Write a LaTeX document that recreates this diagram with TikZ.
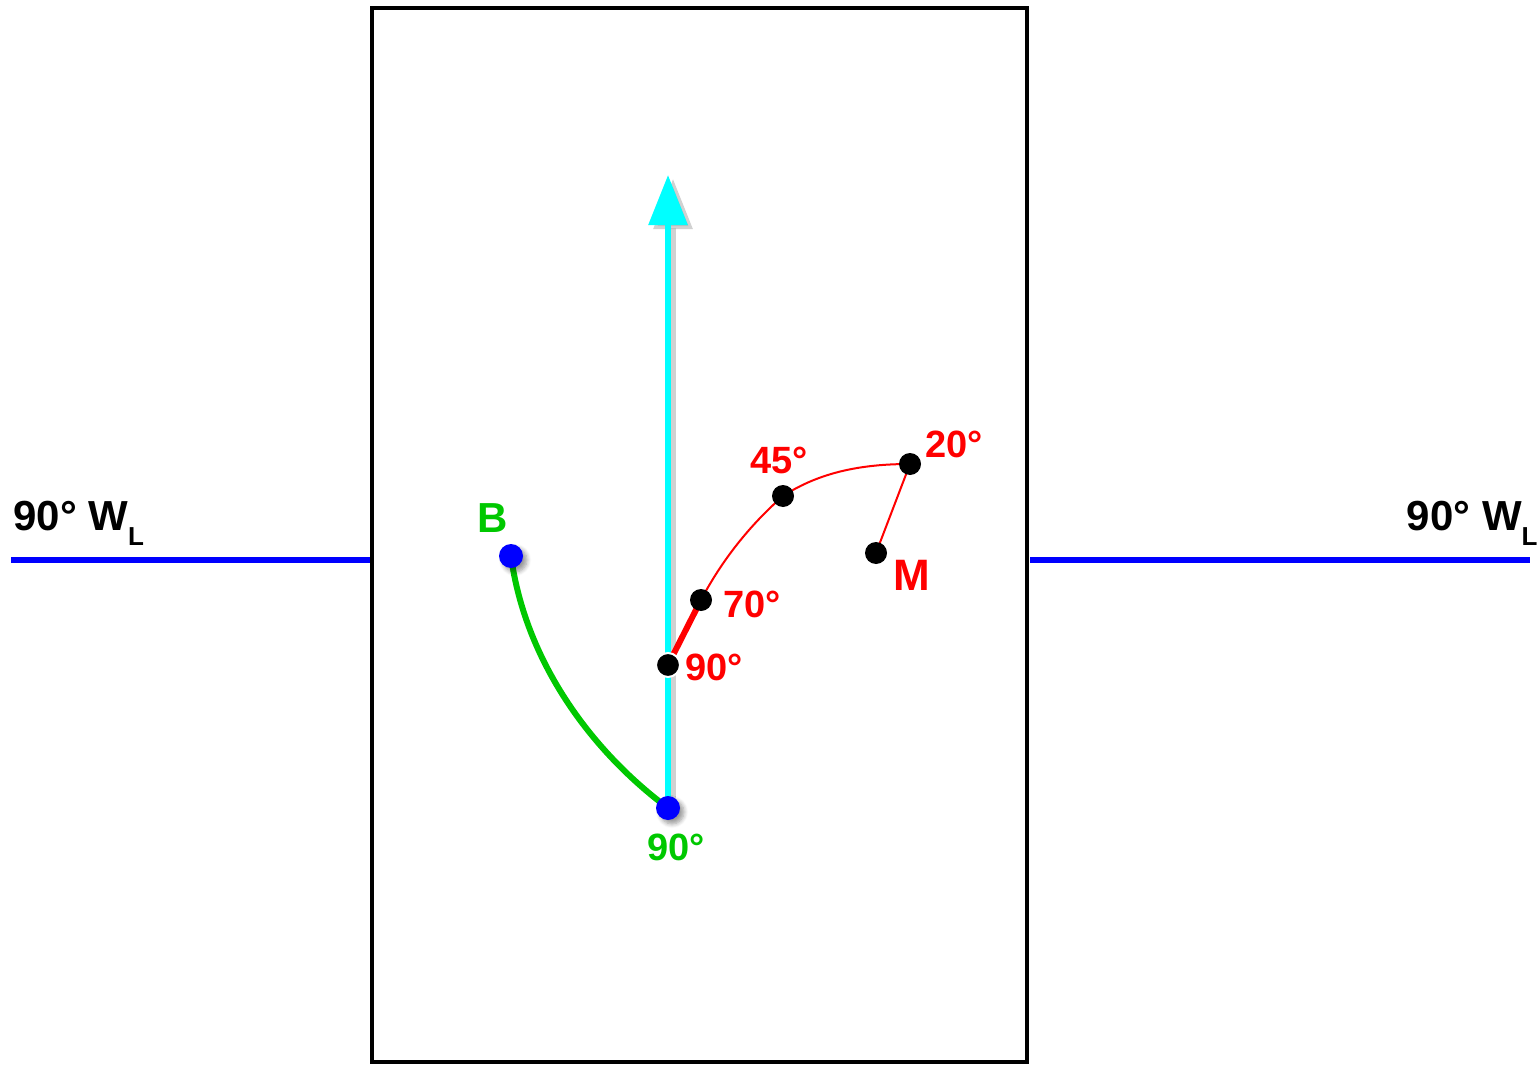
\documentclass[tikz,border=0pt]{standalone}
\usepackage{fontspec}
\setmainfont{Liberation Sans}
\usetikzlibrary{arrows.meta,shadows.blur}

\definecolor{aqua}{RGB}{0,255,255}
\definecolor{grassgreen}{RGB}{0,200,0}
\definecolor{purered}{RGB}{255,0,0}
\definecolor{pureblue}{RGB}{0,0,255}

\tikzset{
  bluedot/.style={circle, fill=pureblue, inner sep=0pt, minimum size=12pt,
    blur shadow={shadow xshift=2pt, shadow yshift=-2pt, shadow blur steps=6}},
  blackdot/.style={circle, fill=black, inner sep=0pt, minimum size=11pt},
  redlbl/.style={anchor=base west, inner sep=0pt, text=purered,
    font=\fontsize{19}{19}\selectfont\bfseries},
  greenlbl/.style={anchor=base west, inner sep=0pt, text=grassgreen,
    font=\fontsize{20}{20}\selectfont\bfseries},
  wlbl/.style={inner sep=0pt, font=\fontsize{21}{21}\selectfont\bfseries},
  horizon/.style={pureblue, line width=3pt}
}
\newcommand{\wsub}{{\fontsize{13}{13}\selectfont\raisebox{-7.5pt}{L}}}

\begin{document}
\begin{tikzpicture}[x=0.5pt, y=-0.5pt]
    \useasboundingbox (0,0) rectangle (1538,1065);

    % frame
    \draw[line width=2pt] (372,8) rectangle (1027,1062);

    % horizon lines
    \coordinate (hl1) at (11,560);
    \coordinate (hl2) at (370,560);
    \coordinate (hr1) at (1030,560);
    \coordinate (hr2) at (1530,560);
    \draw[horizon] (hl1) -- (hl2);
    \draw[horizon] (hr1) -- (hr2);
    \node[wlbl, anchor=base west] (wleft) at (13,530) {90° W\wsub};
    \node[wlbl, anchor=base east] (wright) at (1538,530) {90° W\wsub};

    % vertical arrow
    \coordinate (bot) at (668,808);
    \coordinate (tip) at (668,175);
    \draw[line width=3pt, black!30, opacity=0.6, -{Triangle[width=19pt,length=25pt]}]
        ([xshift=2.5pt,yshift=-2pt]bot) -- ([xshift=2.5pt,yshift=-2pt]tip);
    \draw[line width=3pt, aqua, -{Triangle[width=19pt,length=25pt]}] (bot) -- (tip);

    % green arc
    \coordinate (b) at (511,556);
    \draw[grassgreen, line width=3pt] (b) .. controls (525,660) and (590,750) .. (bot);

    % red track
    \coordinate (p90) at (668,665);
    \coordinate (p70) at (701,600);
    \coordinate (p45) at (783,496);
    \coordinate (p20) at (910,464);
    \coordinate (m) at (876,553);
    \draw[purered, line width=3pt] (p90) -- (p70);
    \draw[purered, line width=1pt] (p70) .. controls (722,560) and (750,525) .. (p45)
        .. controls (820,472) and (862,464) .. (p20);
    \draw[purered, line width=1pt] (p20) -- (m);

    % dots
    \node[bluedot] (nb) at (b) {};
    \node[bluedot] (nbot) at (bot) {};
    \node[blackdot, draw=white, line width=1pt, minimum size=12pt] (n90) at (p90) {};
    \node[blackdot] (n70) at (p70) {};
    \node[blackdot] (n45) at (p45) {};
    \node[blackdot] (n20) at (p20) {};
    \node[blackdot] (nm) at (m) {};

    % labels
    \node[greenlbl, font=\fontsize{21}{21}\selectfont\bfseries] (lb) at (477,532) {B};
    \node[greenlbl, font=\fontsize{19}{19}\selectfont\bfseries] (lbot) at (647,860) {90°};
    \node[redlbl] (l90) at (685,680) {90°};
    \node[redlbl] (l70) at (723,617) {70°};
    \node[redlbl] (l45) at (750,473) {45°};
    \node[redlbl] (l20) at (925,457) {20°};
    \node[redlbl, font=\fontsize{22}{22}\selectfont\bfseries] (lm) at (893,590) {M};
\end{tikzpicture}
\end{document}
